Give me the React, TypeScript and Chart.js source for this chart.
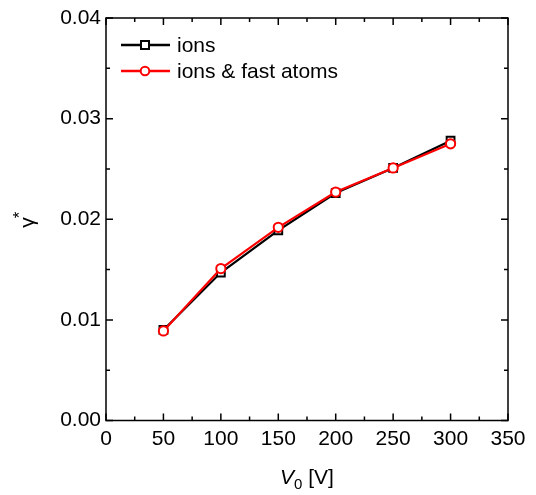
import React, { useEffect, useRef } from "react";
import { Chart, registerables } from "chart.js";

Chart.register(...registerables);

const voltages = [50, 100, 150, 200, 250, 300];
const ionsValues = [0.009, 0.0147, 0.0189, 0.0226, 0.0251, 0.0278];
const ionsFastValues = [0.0089, 0.0151, 0.0192, 0.0227, 0.0251, 0.0275];
const seriesLabels = ["ions", "ions & fast atoms"];
const seriesColors = ["#000000", "#ff0000"];
const xAxisTitle = { main: "V", sub: "0", rest: " [V]" };
const yAxisTitle = { main: "γ", sup: "*" };

const FONT = '"Liberation Sans", Arial, Helvetica, sans-serif';

const framePlugin = {
  id: "frame",
  afterDraw(chart: any) {
    const { ctx, chartArea: a, scales } = chart;
    const xs = scales.x;
    const ys = scales.y;
    ctx.save();
    ctx.strokeStyle = "#000";
    ctx.lineWidth = 1.5;
    ctx.strokeRect(a.left, a.top, a.right - a.left, a.bottom - a.top);

    const xv: number[] = xs.ticks.map((t: any) => t.value);
    const yv: number[] = ys.ticks.map((t: any) => t.value);
    ctx.beginPath();
    const major = 7;
    const minor = 4;
    xv.forEach((v, i) => {
      const p = xs.getPixelForValue(v);
      ctx.moveTo(p, a.bottom);
      ctx.lineTo(p, a.bottom - major);
      ctx.moveTo(p, a.top);
      ctx.lineTo(p, a.top + major);
      if (i < xv.length - 1) {
        const m = xs.getPixelForValue((v + xv[i + 1]) / 2);
        ctx.moveTo(m, a.bottom);
        ctx.lineTo(m, a.bottom - minor);
        ctx.moveTo(m, a.top);
        ctx.lineTo(m, a.top + minor);
      }
    });
    yv.forEach((v, i) => {
      const p = ys.getPixelForValue(v);
      ctx.moveTo(a.left, p);
      ctx.lineTo(a.left + major, p);
      ctx.moveTo(a.right, p);
      ctx.lineTo(a.right - major, p);
      if (i < yv.length - 1) {
        const m = ys.getPixelForValue((v + yv[i + 1]) / 2);
        ctx.moveTo(a.left, m);
        ctx.lineTo(a.left + minor, m);
        ctx.moveTo(a.right, m);
        ctx.lineTo(a.right - minor, m);
      }
    });
    ctx.stroke();

    // legend
    const legendYs = [45, 71];
    const legendOrder = [0, 1];
    legendOrder.forEach((idx, i) => {
      const ds = chart.data.datasets[idx];
      const y = legendYs[i];
      ctx.strokeStyle = ds.borderColor;
      ctx.lineWidth = 2.5;
      ctx.beginPath();
      ctx.moveTo(121, y);
      ctx.lineTo(170, y);
      ctx.stroke();
      ctx.lineWidth = 2;
      ctx.fillStyle = "#fff";
      ctx.beginPath();
      if (ds.pointStyle === "rect") {
        ctx.rect(145 - 4, y - 4, 8, 8);
      } else {
        ctx.arc(145, y, 4.3, 0, Math.PI * 2);
      }
      ctx.fill();
      ctx.stroke();
      ctx.fillStyle = "#000";
      ctx.font = `21px ${FONT}`;
      ctx.textBaseline = "middle";
      ctx.textAlign = "left";
      ctx.fillText(ds.label, 177, y + 1);
    });

    // x axis title
    ctx.fillStyle = "#000";
    ctx.textBaseline = "alphabetic";
    ctx.textAlign = "left";
    ctx.font = `italic 21px ${FONT}`;
    const wMain = ctx.measureText(xAxisTitle.main).width;
    ctx.font = `15px ${FONT}`;
    const wSub = ctx.measureText(xAxisTitle.sub).width;
    ctx.font = `21px ${FONT}`;
    const wRest = ctx.measureText(xAxisTitle.rest).width;
    const total = wMain + wSub + wRest;
    const cx = (a.left + a.right) / 2;
    let x0 = cx - total / 2;
    const base = 484;
    ctx.font = `italic 21px ${FONT}`;
    ctx.fillText(xAxisTitle.main, x0, base);
    x0 += wMain;
    ctx.font = `15px ${FONT}`;
    ctx.fillText(xAxisTitle.sub, x0, base + 5);
    x0 += wSub;
    ctx.font = `21px ${FONT}`;
    ctx.fillText(xAxisTitle.rest, x0, base);

    // y axis title
    ctx.save();
    ctx.translate(34, (a.top + a.bottom) / 2);
    ctx.rotate(-Math.PI / 2);
    ctx.font = `21px ${FONT}`;
    const wg = ctx.measureText(yAxisTitle.main).width;
    ctx.font = `17px ${FONT}`;
    const ws = ctx.measureText(yAxisTitle.sup).width;
    const tw = wg + ws;
    ctx.font = `21px ${FONT}`;
    ctx.fillText(yAxisTitle.main, -tw / 2, 0);
    ctx.font = `17px ${FONT}`;
    ctx.fillText(yAxisTitle.sup, -tw / 2 + wg - 1, -9);
    ctx.restore();

    ctx.restore();
  },
};

export default function App() {
  const ref = useRef<HTMLCanvasElement | null>(null);
  useEffect(() => {
    document.body.style.margin = "0";
    const canvas = ref.current;
    if (!canvas) return;
    const chart = new Chart(canvas, {
      type: "line",
      data: {
        datasets: [
          {
            label: seriesLabels[0],
            data: voltages.map((v, i) => ({ x: v, y: ionsValues[i] })),
            borderColor: seriesColors[0],
            backgroundColor: "#ffffff",
            borderWidth: 2.2,
            pointStyle: "rect",
            pointRadius: 5.5,
            pointBorderWidth: 2,
            pointBorderColor: seriesColors[0],
            pointBackgroundColor: "#ffffff",
            order: 2,
          },
          {
            label: seriesLabels[1],
            data: voltages.map((v, i) => ({ x: v, y: ionsFastValues[i] })),
            borderColor: seriesColors[1],
            backgroundColor: "#ffffff",
            borderWidth: 2.2,
            pointStyle: "circle",
            pointRadius: 4.6,
            pointBorderWidth: 2,
            pointBorderColor: seriesColors[1],
            pointBackgroundColor: "#ffffff",
            order: 1,
          },
        ],
      },
      options: {
        responsive: false,
        animation: false,
        layout: { padding: { left: 0, top: 18, right: 28, bottom: 0 } },
        plugins: {
          legend: { display: false },
          tooltip: { enabled: false },
        },
        scales: {
          x: {
            type: "linear",
            min: 0,
            max: 350,
            ticks: {
              stepSize: 50,
              color: "#000",
              font: { family: FONT, size: 21 },
              padding: 6,
              maxRotation: 0,
            },
            grid: { display: false, drawTicks: false },
            border: { display: false },
            afterFit: (s: any) => {
              s.height = 74.5;
            },
          },
          y: {
            type: "linear",
            min: 0,
            max: 0.04,
            ticks: {
              stepSize: 0.01,
              color: "#000",
              font: { family: FONT, size: 21 },
              padding: 5,
              callback: (v: any) => Number(v).toFixed(2),
            },
            grid: { display: false, drawTicks: false },
            border: { display: false },
            afterFit: (s: any) => {
              s.width = 106;
            },
          },
        },
      },
      plugins: [framePlugin],
    } as any);
    return () => chart.destroy();
  }, []);
  return <canvas ref={ref} width={536} height={495} style={{ display: "block" }} />;
}
